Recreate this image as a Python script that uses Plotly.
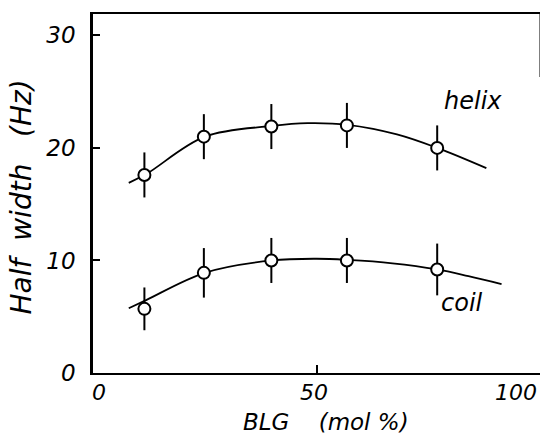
import plotly.graph_objects as go

# --- data ---
blg = [11.5, 24.8, 39.9, 56.8, 77.0]
helix_hw = [17.6, 21.0, 21.9, 22.0, 20.0]
helix_err = [2.0, 2.0, 2.0, 2.0, 2.0]
coil_hw = [5.7, 8.9, 10.0, 10.0, 9.2]
coil_err = [1.9, 2.2, 2.0, 2.0, 2.3]

helix_curve_x = [8, 12, 25, 40, 48, 57, 68, 77, 88]
helix_curve_y = [16.9, 17.7, 21.0, 21.95, 22.2, 22.05, 21.2, 20.0, 18.2]
coil_curve_x = [8, 12, 25, 40, 50, 57, 67, 77, 84, 91.4]
coil_curve_y = [5.75, 6.5, 8.9, 10.0, 10.15, 10.05, 9.75, 9.2, 8.6, 7.9]

x_ticks = [0, 50, 100]
x_tick_labels = ["0", "50", "100"]
x_label_shift = [6, -3, -24]
y_ticks = [0, 10, 20, 30]
y_tick_labels = ["0", "10", "20", "30"]

FONT = "DejaVu Sans"
ink = "black"

fig = go.Figure()

for cx, cy in [(helix_curve_x, helix_curve_y), (coil_curve_x, coil_curve_y)]:
    fig.add_trace(go.Scatter(x=cx, y=cy, mode="lines",
                             line=dict(color=ink, width=1.8, shape="spline", smoothing=1.0),
                             showlegend=False, hoverinfo="skip"))

for yy, ee in [(helix_hw, helix_err), (coil_hw, coil_err)]:
    fig.add_trace(go.Scatter(x=blg, y=yy, mode="markers",
                             error_y=dict(type="data", array=ee, visible=True,
                                          color=ink, thickness=2, width=0),
                             marker=dict(symbol="circle", size=12, color="white",
                                         line=dict(color=ink, width=2)),
                             showlegend=False))

tickfont = dict(family=FONT, size=23, color=ink, style="italic")
xtickfont = dict(family=FONT, size=22, color=ink, style="italic")

fig.update_xaxes(range=[0, 100], tickvals=[50], showticklabels=False,
                 ticks="inside", ticklen=8, tickwidth=1.5, tickcolor=ink,
                 showline=True, linecolor=ink, linewidth=2, mirror=True,
                 showgrid=False, zeroline=False)
fig.update_yaxes(range=[0, 31.9], tickvals=y_ticks, ticktext=y_tick_labels,
                 ticks="inside", ticklen=7, tickwidth=2, tickcolor=ink,
                 tickfont=tickfont, ticklabelstandoff=10,
                 showline=True, linecolor=ink, linewidth=2.5,
                 showgrid=False, zeroline=False)

annotations = []
for v, t, s in zip(x_ticks, x_tick_labels, x_label_shift):
    annotations.append(dict(x=v, y=0, xref="x", yref="y", text=t, showarrow=False,
                            yshift=-19, xshift=s, font=xtickfont))

annotations += [
    dict(x=85, y=24.2, xref="x", yref="y", text="helix", showarrow=False,
         font=dict(family=FONT, size=24, color=ink, style="italic")),
    dict(x=82.6, y=6.2, xref="x", yref="y", text="coil", showarrow=False,
         font=dict(family=FONT, size=24, color=ink, style="italic")),
    dict(x=(326 - 93) / 447, y=-0.136, xref="paper", yref="paper",
         text="BLG\u00a0\u00a0\u00a0\u00a0(mol\u00a0%)", showarrow=False, yanchor="middle",
         font=dict(family=FONT, size=23, color=ink, style="italic")),
    dict(x=(21 - 93) / 447, y=0.489, xref="paper", yref="paper",
         text="Half\u00a0\u00a0width\u00a0\u00a0\u00a0(Hz)", showarrow=False, textangle=-90,
         xanchor="center", yanchor="middle",
         font=dict(family=FONT, size=28, color=ink, style="italic")),
]

fig.add_shape(type="line", xref="paper", yref="y", x0=1, x1=1, y0=31.9, y1=26.3,
              line=dict(color="#555", width=1.5))

fig.update_layout(width=540, height=436, margin=dict(l=93, r=0, t=14, b=63),
                  paper_bgcolor="white", plot_bgcolor="white",
                  annotations=annotations)

fig.write_html("out.html")
